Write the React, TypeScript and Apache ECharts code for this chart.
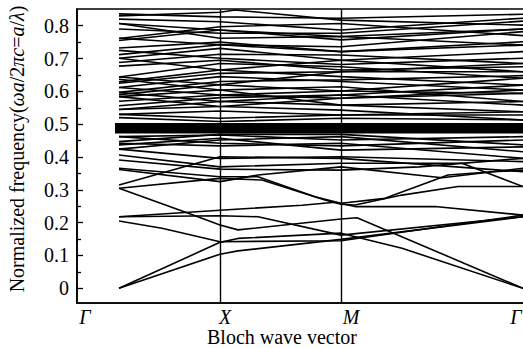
import { useEffect, useRef } from 'react';
import * as echarts from 'echarts';

// Path coordinate (arbitrary units along the Bloch path): Γ, X, M, Γ
const K_POINTS = [0, 101, 222, 404];
const X_LABEL_POS = [-34, 106, 232, 397];
const X_LABELS = ['Γ', 'X', 'M', 'Γ'];
const Y_TICKS = [0, 0.1, 0.2, 0.3, 0.4, 0.5, 0.6, 0.7, 0.8];
const Y_MINOR = [0.05, 0.15, 0.25, 0.35, 0.45, 0.55, 0.65, 0.75];
const FLAT_BAND = 0.488;

// lower bands as [k, normalized frequency]
const LOWER_BANDS: number[][][] = [
  [[0, 0], [101, 0.104], [119, 0.114], [222, 0.149], [404, 0.218]],
  [[0, 0], [101, 0.14], [119, 0.152], [222, 0.168], [283, 0.122], [404, 0]],
  [[0, 0.205], [43, 0.183], [101, 0.142], [222, 0.145], [404, 0.223]],
  [[0, 0.305], [70, 0.228], [101, 0.193], [119, 0.178], [222, 0.211], [238, 0.215], [404, 0]],
  [[0, 0.218], [101, 0.238], [183, 0.253], [216, 0.262], [236, 0.249], [316, 0.249], [404, 0.223]],
  [[0, 0.218], [101, 0.221], [139, 0.218], [222, 0.162], [404, 0.218]],
  [[0, 0.305], [101, 0.335], [143, 0.33], [206, 0.269], [222, 0.256], [236, 0.254], [283, 0.284], [339, 0.31], [404, 0.31]],
  [[0, 0.366], [101, 0.34], [139, 0.34], [196, 0.279], [222, 0.259], [266, 0.274], [329, 0.345], [373, 0.355], [404, 0.36]],
  [[0, 0.315], [101, 0.401], [222, 0.396], [404, 0.355]],
  [[0, 0.362], [101, 0.325], [139, 0.345], [222, 0.37], [323, 0.337], [404, 0.366]],
  [[0, 0.391], [101, 0.363], [222, 0.36], [300, 0.37], [404, 0.396]],
  [[0, 0.406], [101, 0.37], [222, 0.381], [343, 0.381], [404, 0.31]],
  [[0, 0.424], [101, 0.396], [222, 0.401], [404, 0.386]],
  [[0, 0.437], [101, 0.457], [222, 0.421], [404, 0.431]],
  [[0, 0.442], [101, 0.434], [222, 0.442], [404, 0.396]],
  [[0, 0.462], [101, 0.442], [222, 0.434], [404, 0.452]],
  [[0, 0.424], [101, 0.452], [222, 0.462], [404, 0.416]],
  [[0, 0.447], [101, 0.469], [222, 0.469], [404, 0.437]],
  [[0, 0.462], [101, 0.467], [222, 0.452], [404, 0.462]],
  [[0, 0.83], [101, 0.841], [116, 0.848], [222, 0.817], [404, 0.802]],
];

// upper bands: values at Γ, X, M, Γ
const UPPER_BANDS: number[][] = [
  [0.836, 0.827, 0.823, 0.835],
  [0.82, 0.812, 0.787, 0.823],
  [0.807, 0.762, 0.767, 0.741],
  [0.807, 0.787, 0.767, 0.79],
  [0.79, 0.777, 0.777, 0.814],
  [0.762, 0.742, 0.721, 0.741],
  [0.761, 0.797, 0.807, 0.77],
  [0.755, 0.787, 0.757, 0.79],
  [0.732, 0.75, 0.721, 0.751],
  [0.725, 0.701, 0.682, 0.701],
  [0.712, 0.742, 0.736, 0.782],
  [0.701, 0.731, 0.695, 0.721],
  [0.701, 0.665, 0.695, 0.66],
  [0.688, 0.713, 0.711, 0.685],
  [0.677, 0.695, 0.665, 0.675],
  [0.644, 0.685, 0.675, 0.64],
  [0.644, 0.62, 0.66, 0.685],
  [0.637, 0.604, 0.614, 0.569],
  [0.629, 0.665, 0.645, 0.619],
  [0.625, 0.655, 0.66, 0.66],
  [0.612, 0.645, 0.63, 0.604],
  [0.612, 0.589, 0.601, 0.64],
  [0.597, 0.63, 0.635, 0.648],
  [0.597, 0.569, 0.589, 0.619],
  [0.59, 0.62, 0.601, 0.594],
  [0.584, 0.554, 0.543, 0.513],
  [0.584, 0.604, 0.558, 0.569],
  [0.57, 0.589, 0.579, 0.604],
  [0.556, 0.581, 0.589, 0.558],
  [0.545, 0.569, 0.558, 0.538],
  [0.545, 0.554, 0.579, 0.594],
  [0.53, 0.54, 0.528, 0.528],
  [0.52, 0.508, 0.518, 0.513],
  [0.53, 0.518, 0.528, 0.538],
];

const FONT = 'Liberation Serif';

export default function App() {
  const ref = useRef<HTMLDivElement>(null);
  useEffect(() => {
    if (!ref.current) return;
    const chart = echarts.init(ref.current, undefined, { renderer: 'svg' });
    const bands: number[][][] = [
      ...LOWER_BANDS,
      ...UPPER_BANDS.map((row) => row.map((v, i) => [K_POINTS[i], v])),
    ];
    const lineStyle = { color: '#000', width: 1.6 };
    const series: any[] = bands.map((b) => ({
      type: 'line',
      data: b,
      symbol: 'none',
      silent: true,
      lineStyle,
    }));
    series.push({
      type: 'line',
      data: [[-4, FLAT_BAND], [K_POINTS[3] + 10, FLAT_BAND]],
      symbol: 'none',
      silent: true,
      lineStyle: { color: '#000', width: 10.5 },
      markLine: {
        silent: true,
        symbol: 'none',
        label: { show: false },
        lineStyle: { color: '#000', width: 1.4, type: 'solid' },
        data: [{ xAxis: K_POINTS[1] }, { xAxis: K_POINTS[2] }],
      },
    });
    chart.setOption({
      animation: false,
      backgroundColor: '#fff',
      textStyle: { fontFamily: FONT },
      grid: {
        left: 77,
        top: 9,
        height: 294,
        width: 466,
        containLabel: false,
        outerBoundsMode: 'none',
        show: true,
        borderColor: '#000',
        borderWidth: 1.6,
      },
      xAxis: {
        type: 'value',
        min: -42,
        max: 424,
        splitLine: { show: false },
        axisLine: { show: true, onZero: false, lineStyle: { color: '#000', width: 1.6 } },
        axisTick: { show: false },
        axisLabel: {
          customValues: X_LABEL_POS,
          formatter: (v: number) => {
            const i = X_LABEL_POS.indexOf(v);
            return i >= 0 ? X_LABELS[i] : '';
          },
          fontFamily: FONT,
          fontStyle: 'italic',
          fontSize: 20,
          color: '#000',
          margin: 4,
        },
      },
      yAxis: [
        {
          type: 'value',
          min: -0.0448,
          max: 0.851,
          splitLine: { show: false },
          axisLine: { show: true, onZero: false, lineStyle: { color: '#000', width: 1.6 } },
          axisTick: { show: true, inside: true, length: 6, customValues: Y_TICKS, lineStyle: { color: '#000', width: 1.3 } },
          axisLabel: {
            customValues: Y_TICKS,
            formatter: (v: number) => (Math.abs(v) < 1e-9 ? '0' : v.toFixed(1)),
            fontFamily: FONT,
            fontSize: 20,
            color: '#000',
            margin: 8,
          },
          name: '{n|Normalized frequency(}{i|ωa}{n|/2}{i|πc}{n|=}{i|a}{n|/}{i|λ}{n|)}',
          nameLocation: 'middle',
          nameGap: 50,
          nameRotate: 90,
          nameTextStyle: {
            fontFamily: FONT,
            fontSize: 20,
            padding: [0, 0, 0, 14],
            rich: {
              n: { fontFamily: FONT, fontSize: 20, color: '#000' },
              i: { fontFamily: FONT, fontSize: 20, color: '#000', fontStyle: 'italic' },
            },
          },
        },
        {
          type: 'value',
          min: -0.0448,
          max: 0.851,
          position: 'left',
          splitLine: { show: false },
          axisLine: { show: false, onZero: false },
          axisTick: { show: true, inside: true, length: 4, customValues: Y_MINOR, lineStyle: { color: '#000', width: 1.3 } },
          axisLabel: { show: false },
        },
      ],
      graphic: [
        {
          type: 'text',
          left: 207,
          top: 327,
          style: { text: 'Bloch wave vector', fontFamily: FONT, fontSize: 20, fill: '#000' },
        },
      ],
      series,
    });
    return () => chart.dispose();
  }, []);
  return <div ref={ref} style={{ position: 'absolute', left: 0, top: 0, width: 523, height: 348 }} />;
}
